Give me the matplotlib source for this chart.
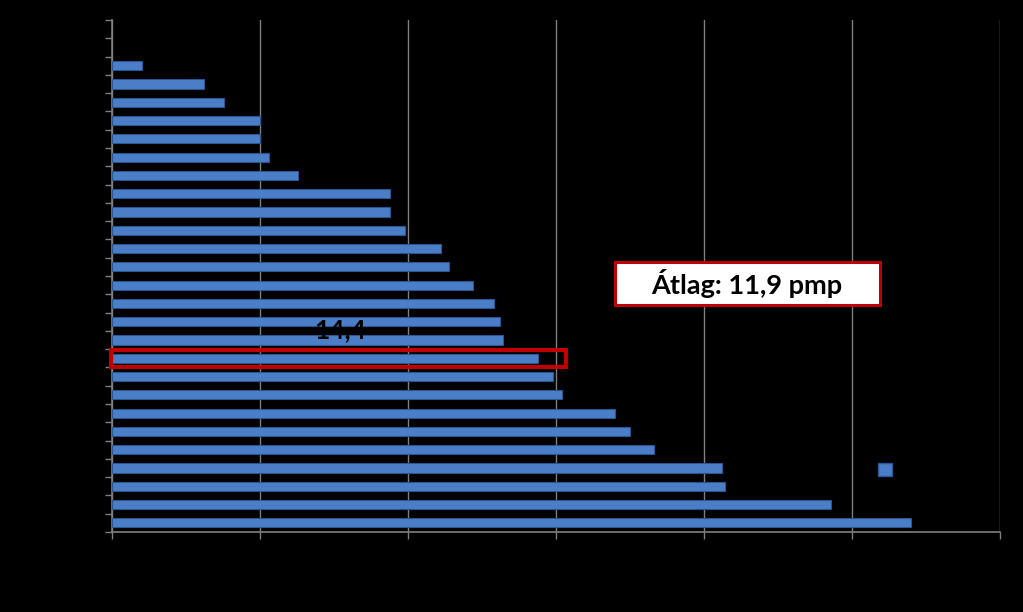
import matplotlib
matplotlib.use("Agg")
import matplotlib.pyplot as plt
from matplotlib.patches import Rectangle, Patch

# values read from top to bottom (two empty slots above the first bar)
values = [1.0, 3.1, 3.8, 5.0, 5.0, 5.3, 6.3, 9.4, 9.4, 9.9, 11.1, 11.4, 12.2,
          12.9, 13.1, 13.2, 14.4, 14.9, 15.2, 17.0, 17.5, 18.3, 20.6, 20.7,
          24.3, 27.0]
empty_slots = 2
highlight_value = 14.4
highlight_label = "14,4"
average_text = "Átlag: 11,9 pmp"
x_ticks = [0, 5, 10, 15, 20, 25, 30]

BG = "black"
BAR = "#4a7fc8"
BAR_EDGE = "#2c5690"
GRID = "#7f7f7f"
RED = "#c00000"

fig = plt.figure(figsize=(10.23, 6.12), dpi=100, facecolor=BG)
ax = fig.add_axes([112 / 1023, 80 / 612, 888 / 1023, 512 / 612], facecolor=BG)

pos = list(range(len(values)))
ax.barh(pos, values, height=0.5, color=BAR, edgecolor=BAR_EDGE, linewidth=0.8,
        zorder=3)

ax.set_xlim(x_ticks[0], x_ticks[-1])
ax.set_ylim(len(values) - 0.5, -0.5 - empty_slots)
ax.set_xticks(x_ticks)
ax.set_xticklabels([])
ax.set_yticks([i - 0.5 for i in range(-empty_slots, len(values) + 1)])
ax.set_yticklabels([])
ax.tick_params(axis="both", colors=GRID, length=5, width=1)
ax.xaxis.grid(True, color=GRID, linewidth=1, zorder=0)
for side in ["top", "right"]:
    ax.spines[side].set_visible(False)
for side in ["left", "bottom"]:
    ax.spines[side].set_color(GRID)
    ax.spines[side].set_linewidth(1.2)

# highlight box around the selected bar
hi = values.index(highlight_value)
ax.add_patch(Rectangle((-0.05, hi - 0.48), 15.4, 0.96, fill=False,
                       edgecolor=RED, linewidth=3, clip_on=False, zorder=5))
ax.text(7.7, hi - 1.55, highlight_label, color="black", fontsize=19,
        fontweight="bold", family="Lato", ha="center", va="center", zorder=6)

# average box
fig.patches.append(Rectangle((615 / 1023, 1 - 305 / 612), 265 / 1023,
                             43 / 612, transform=fig.transFigure,
                             facecolor="white", edgecolor=RED, linewidth=2.2))
fig.text(747 / 1023, 1 - 284 / 612, average_text, fontsize=19.5,
         fontweight="bold", family="Lato", color="black", ha="center",
         va="center")

# legend marker
fig.legend(handles=[Patch(facecolor=BAR, edgecolor=BAR_EDGE)], labels=[""],
           loc="upper left", bbox_to_anchor=(878 / 1023, 1 - 463 / 612),
           frameon=False, fontsize=10, handlelength=1.0, handleheight=1.1,
           borderpad=0, borderaxespad=0, handletextpad=0.2)

fig.savefig("out.png", dpi=100, facecolor=BG)
